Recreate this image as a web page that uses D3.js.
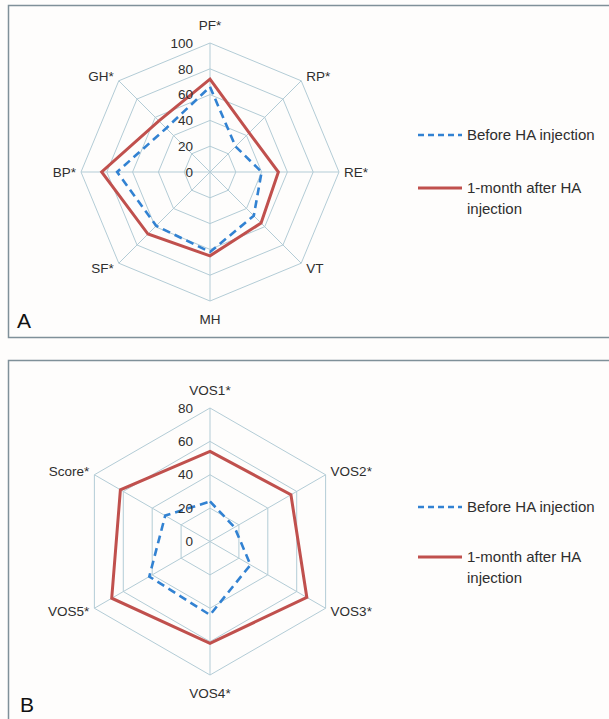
<!DOCTYPE html>
<html lang="en">
<head>
<meta charset="UTF-8">
<title>Radar charts</title>
<style>
  * { margin: 0; padding: 0; }
  body { background: #fefdfc; width: 609px; height: 719px; overflow: hidden; }
  svg { display: block; font-family: "Liberation Sans", Arial, sans-serif; }
  .grid { fill: none; stroke: #b3ccd6; stroke-width: 1; }
  .tick { font-size: 13.5px; fill: #2e2e2e; }
  .cat { font-size: 13.5px; fill: #2e2e2e; }
  .legend { font-size: 15px; fill: #2e2e2e; }
  .frame { fill: #fefdfc; stroke: #7f9099; stroke-width: 1.5; }
</style>
</head>
<body>
<svg id="svg" width="609" height="719"></svg>
<script src="https://d3js.org/d3.v7.min.js"></script>
<script>
// Panel A: SF-36 domains
const catsA = ['PF*', 'RP*', 'RE*', 'VT', 'MH', 'SF*', 'BP*', 'GH*'];
const beforeA = [66, 28, 40, 48, 62, 59, 72, 48];
const afterA = [72, 43, 53, 56, 65, 68, 84, 56];
const ticksA = [0, 20, 40, 60, 80, 100];

// Panel B: VOS items
const catsB = ['VOS1*', 'VOS2*', 'VOS3*', 'VOS4*', 'VOS5*', 'Score*'];
const beforeB = [24, 17, 28, 44, 42, 31];
const afterB = [54, 56, 67, 61, 68, 62];
const ticksB = [0, 20, 40, 60, 80];

const seriesNames = ['Before HA injection', '1-month after HA injection'];
const colors = ['#3282d2', '#c0504d'];

const svg = d3.select('#svg');

// frames
svg.append('rect').attr('class', 'frame').attr('x', 8.5).attr('y', 5.5).attr('width', 640).attr('height', 332);
svg.append('rect').attr('class', 'frame').attr('x', 8.5).attr('y', 360.5).attr('width', 640).attr('height', 400);
svg.append('text').attr('x', 17).attr('y', 328).attr('font-size', 21).attr('fill', '#111').text('A');
svg.append('text').attr('x', 20).attr('y', 712).attr('font-size', 21).attr('fill', '#111').text('B');

function radar(cx, cy, R, cats, ticks, series) {
  const n = cats.length;
  const r = d3.scaleLinear().domain([0, d3.max(ticks)]).range([0, R]);
  const ang = d3.scaleLinear().domain([0, n]).range([0, 2 * Math.PI]);
  const pt = (i, v) => [cx + r(v) * Math.sin(ang(i)), cy - r(v) * Math.cos(ang(i))];
  const g = svg.append('g');
  const line = d3.line();

  // rings
  ticks.filter(t => t > 0).forEach(t => {
    g.append('path').attr('class', 'grid')
      .attr('d', line(d3.range(n).map(i => pt(i, t))) + 'Z');
  });
  // spokes
  d3.range(n).forEach(i => {
    g.append('path').attr('class', 'grid').attr('d', line([[cx, cy], pt(i, d3.max(ticks))]));
  });

  // series
  series.forEach((vals, s) => {
    g.append('path')
      .attr('d', line(vals.map((v, i) => pt(i, v))) + 'Z')
      .attr('fill', 'none')
      .attr('stroke', colors[s])
      .attr('stroke-width', s === 0 ? 2.6 : 3)
      .attr('stroke-linejoin', 'miter')
      .attr('stroke-dasharray', s === 0 ? '8,5' : null);
  });

  // tick labels
  g.selectAll('.tick').data(ticks).join('text')
    .attr('class', 'tick')
    .attr('x', cx - 17)
    .attr('y', d => cy - r(d))
    .attr('dy', '0.35em')
    .attr('text-anchor', 'end')
    .text(d => d);

  // category labels
  cats.forEach((c, i) => {
    const a = ang(i);
    const s = Math.sin(a), co = Math.cos(a);
    const [vx, vy] = pt(i, d3.max(ticks));
    let x, y, anchor;
    if (Math.abs(s) < 0.01) {
      x = vx; y = vy - co * 18; anchor = 'middle';
    } else {
      x = vx + Math.sign(s) * 5; y = vy - co * 7; anchor = s > 0 ? 'start' : 'end';
    }
    g.append('text').attr('class', 'cat')
      .attr('x', x).attr('y', y).attr('dy', '0.35em')
      .attr('text-anchor', anchor).text(c);
  });
}

function legend(x, y1, y2) {
  const g = svg.append('g');
  [y1, y2].forEach((y, s) => {
    g.append('line').attr('x1', x).attr('x2', x + 44).attr('y1', y).attr('y2', y)
      .attr('stroke', colors[s]).attr('stroke-width', s === 0 ? 2.6 : 3)
      .attr('stroke-dasharray', s === 0 ? '6,4' : null);
  });
  g.append('text').attr('class', 'legend').attr('x', x + 49).attr('y', y1).attr('dy', '0.35em').text(seriesNames[0]);
  const t = g.append('text').attr('class', 'legend').attr('x', x + 49).attr('y', y2).attr('dy', '0.35em');
  t.append('tspan').text('1-month after HA');
  t.append('tspan').attr('x', x + 49).attr('dy', 21).text('injection');
}

radar(210, 172, 129, catsA, ticksA, [beforeA, afterA]);
legend(418, 135, 188);

radar(210, 541.5, 133.5, catsB, ticksB, [beforeB, afterB]);
legend(418, 507, 557);
</script>
</body>
</html>
